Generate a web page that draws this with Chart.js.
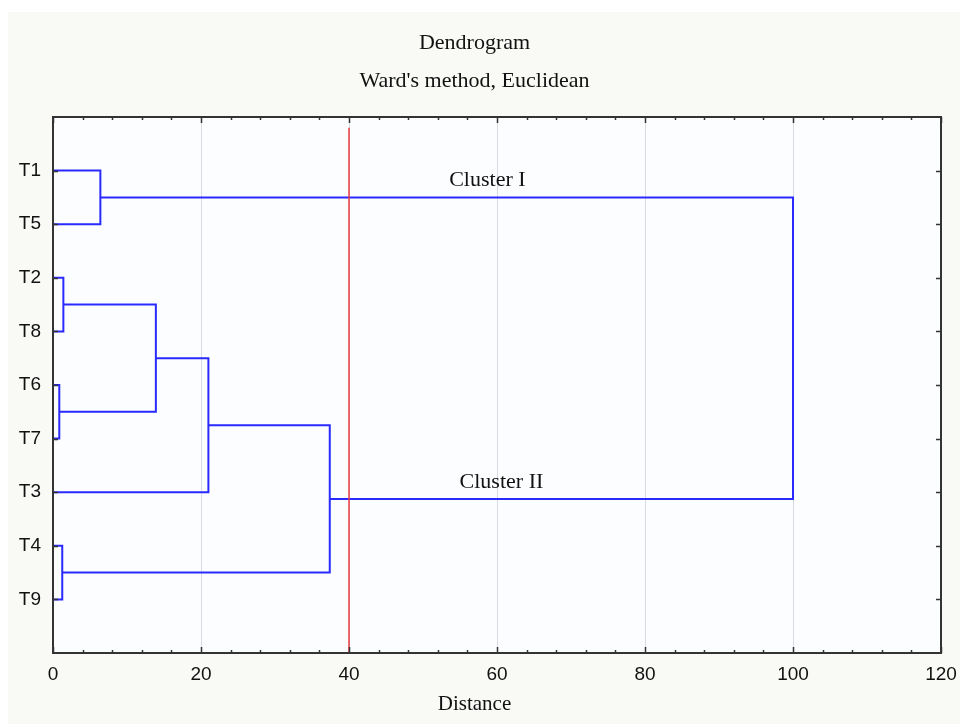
<!DOCTYPE html>
<html lang="en">
<head>
  <meta charset="UTF-8" />
  <title>Dendrogram</title>
  <script src="https://cdn.jsdelivr.net/npm/chart.js"></script>
  <style>
    body {
      margin: 0;
      background: #ffffff;
    }
    #wrap {
      position: absolute;
      left: 8px;
      top: 12px;
      width: 952px;
      height: 712px;
      background: #f9faf6;
    }
  </style>
</head>
<body>
<div id="wrap">
  <canvas id="dendro" width="952" height="712"></canvas>
</div>

<script>
  // leaves, top to bottom
  const leafLabels = ['T1', 'T5', 'T2', 'T8', 'T6', 'T7', 'T3', 'T4', 'T9'];

  // linkage: ids < 9 are leaves, 9+i is merge i
  const mergeA = [4, 7, 2, 0, 11, 13, 14, 12];
  const mergeB = [5, 8, 3, 1, 9, 6, 10, 15];
  const mergeHeight = [0.85, 1.25, 1.4, 6.4, 13.9, 21.0, 37.4, 100];

  const cutDistance = 40;
  const xTicks = [0, 20, 40, 60, 80, 100, 120];
  const clusterNames = ['Cluster I', 'Cluster II'];
  const clusterNodes = [12, 15];

  const n = leafLabels.length;
  const nodeY = leafLabels.map((_, i) => i + 1);
  const nodeH = leafLabels.map(() => 0);
  mergeA.forEach((a, i) => {
    const b = mergeB[i];
    nodeY.push((nodeY[a] + nodeY[b]) / 2);
    nodeH.push(mergeHeight[i]);
  });

  const treeSets = mergeA.map((a, i) => {
    const b = mergeB[i];
    const h = mergeHeight[i];
    return {
      data: [
        { x: nodeH[a], y: nodeY[a] },
        { x: h, y: nodeY[a] },
        { x: h, y: nodeY[b] },
        { x: nodeH[b], y: nodeY[b] }
      ],
      showLine: true,
      borderColor: '#2a2aff',
      borderWidth: 2,
      pointRadius: 0,
      order: 1
    };
  });

  const cutSet = {
    data: [{ x: cutDistance, y: 0.2 }, { x: cutDistance, y: 10 }],
    showLine: true,
    borderColor: '#ec3b42',
    borderWidth: 1.5,
    pointRadius: 0,
    order: 0
  };

  const framePlugin = {
    id: 'frame',
    beforeDraw(chart) {
      const { ctx, chartArea: a } = chart;
      ctx.save();
      ctx.fillStyle = '#fbfdff';
      ctx.fillRect(a.left, a.top, a.right - a.left, a.bottom - a.top);
      ctx.restore();
    },
    afterDatasetsDraw(chart) {
      const { ctx, scales } = chart;
      ctx.save();
      ctx.font = '22px "Liberation Serif"';
      ctx.fillStyle = '#111';
      ctx.textAlign = 'center';
      ctx.textBaseline = 'alphabetic';
      const tagX = [58.7, 60.6];
      clusterNames.forEach((name, i) => {
        const px = scales.x.getPixelForValue(tagX[i]);
        const py = scales.y.getPixelForValue(nodeY[clusterNodes[i]]);
        ctx.fillText(name, px, py - 11);
      });
      ctx.restore();
    },
    afterDraw(chart) {
      const { ctx, chartArea: a, scales } = chart;
      ctx.save();
      ctx.strokeStyle = '#333';
      ctx.lineWidth = 1.5;
      ctx.beginPath();
      for (let v = 0; v <= 120; v += 4) {
        const px = Math.round(scales.x.getPixelForValue(v)) + 0.5;
        const len = v % 20 === 0 ? 6 : 3;
        ctx.moveTo(px, a.top);
        ctx.lineTo(px, a.top + len);
        ctx.moveTo(px, a.bottom);
        ctx.lineTo(px, a.bottom - len);
      }
      nodeY.slice(0, n).forEach(v => {
        const py = Math.round(scales.y.getPixelForValue(v)) + 0.5;
        ctx.moveTo(a.left, py);
        ctx.lineTo(a.left + 5, py);
        ctx.moveTo(a.right, py);
        ctx.lineTo(a.right - 5, py);
      });
      ctx.stroke();
      ctx.lineWidth = 2;
      ctx.strokeRect(a.left, a.top, a.right - a.left, a.bottom - a.top);
      ctx.restore();
    }
  };

  new Chart(document.getElementById('dendro'), {
    type: 'scatter',
    data: { datasets: [cutSet, ...treeSets] },
    options: {
      responsive: false,
      animation: false,
      layout: { padding: { left: 0, right: 19, top: 0, bottom: 0 } },
      plugins: {
        legend: { display: false },
        tooltip: { enabled: false },
        title: {
          display: true,
          text: ['Dendrogram', "Ward's method, Euclidean"],
          color: '#111',
          font: { family: '"Liberation Serif"', size: 22, weight: 'normal', lineHeight: 38 / 22 },
          padding: { top: 12, bottom: 17 }
        },
        subtitle: {
          display: true,
          position: 'bottom',
          text: 'Distance',
          color: '#111',
          font: { family: '"Liberation Serif"', size: 21, weight: 'normal', lineHeight: 1.2 },
          padding: { top: 0, bottom: 7.4 }
        }
      },
      scales: {
        x: {
          type: 'linear',
          min: 0,
          max: 120,
          afterBuildTicks: s => { s.ticks = xTicks.map(v => ({ value: v })); },
          afterFit: s => {
            s.height = 38.4;
            s.paddingLeft = 0;
            s.paddingRight = 0;
          },
          ticks: {
            color: '#111',
            padding: 10,
            font: { family: '"Liberation Sans"', size: 19 }
          },
          grid: { color: '#d6dbe4', lineWidth: 1, drawTicks: false },
          border: { display: false }
        },
        y: {
          type: 'linear',
          min: 0,
          max: 10,
          reverse: true,
          afterBuildTicks: s => { s.ticks = nodeY.slice(0, n).map(v => ({ value: v })); },
          afterFit: s => {
            s.width = 45;
            s.paddingTop = 0;
            s.paddingBottom = 0;
          },
          ticks: {
            color: '#111',
            padding: 12,
            autoSkip: false,
            font: { family: '"Liberation Sans"', size: 19 },
            callback: v => leafLabels[v - 1] ?? ''
          },
          grid: { display: false, drawTicks: false },
          border: { display: false }
        }
      }
    },
    plugins: [framePlugin]
  });
</script>
</body>
</html>
